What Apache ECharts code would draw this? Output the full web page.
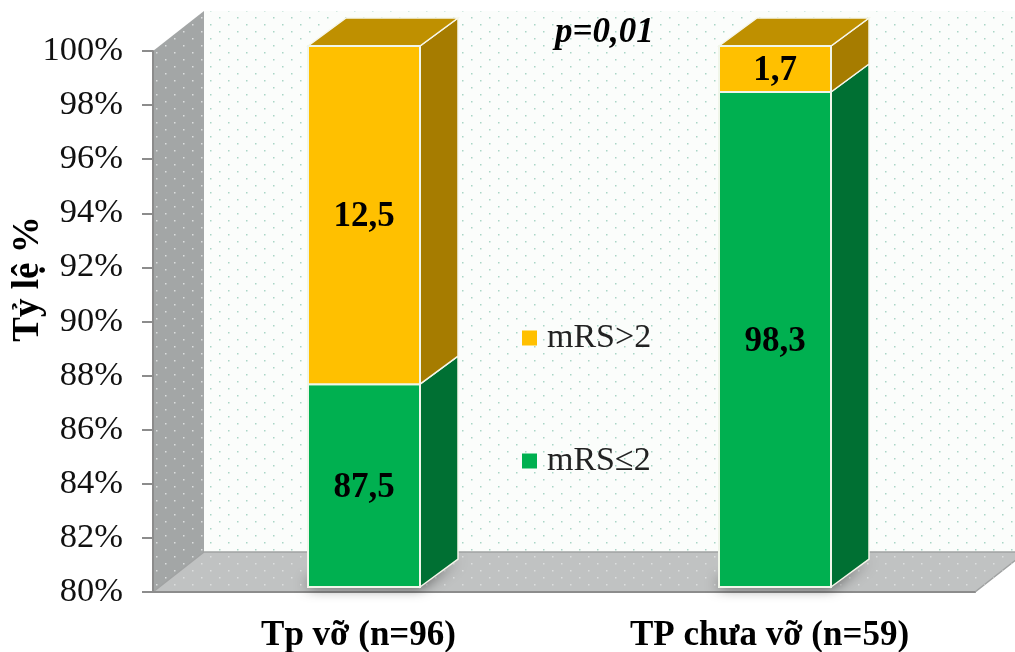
<!DOCTYPE html>
<html>
<head>
<meta charset="utf-8">
<style>
  html, body { margin: 0; padding: 0; background: #fff; }
  #chart { width: 1015px; height: 652px; }
</style>
<script src="https://cdn.jsdelivr.net/npm/echarts@6/dist/echarts.min.js"></script>
</head>
<body>
<div id="chart"></div>
<script>
const categories = ['Tp vỡ (n=96)', 'TP chưa vỡ (n=59)'];
const goodOutcome = [87.5, 98.3];
const poorOutcome = [12.5, 1.7];

const FONT = '"Liberation Serif", "Times New Roman", serif';
const wallDepth = [51, -40];
const barDepth = [38, -28];
const barInset = [5.5, -5];
const barWidth = 112;

function dotPattern(color) {
  const c = document.createElement('canvas');
  c.width = 18;
  c.height = 14;
  const ctx = c.getContext('2d');
  ctx.fillStyle = color;
  ctx.fillRect(3, 3, 1.5, 1.5);
  ctx.fillRect(12, 10, 1.5, 1.5);
  return { image: c, repeat: 'repeat' };
}
const wallDots = dotPattern('#a9d6c6');
const greyDots = dotPattern('#dcdede');

const chart = echarts.init(document.getElementById('chart'));

function renderWalls(params, api) {
  const g = params.coordSys;
  const x0 = g.x, y0 = g.y, x1 = g.x + g.width, y1 = g.y + g.height;
  const dx = wallDepth[0], dy = wallDepth[1];
  const poly = (points, fill, stroke) => ({
    type: 'polygon',
    shape: { points },
    style: { fill, stroke: stroke || null, lineWidth: 1.5 },
    silent: true
  });
  const back = [[x0 + dx, y0 + dy], [x1 + dx, y0 + dy], [x1 + dx, y1 + dy], [x0 + dx, y1 + dy]];
  const side = [[x0, y0], [x0 + dx, y0 + dy], [x0 + dx, y1 + dy], [x0, y1]];
  const floor = [[x0, y1], [x0 + dx, y1 + dy], [x1 + dx, y1 + dy], [x1, y1]];
  return {
    type: 'group',
    children: [
      poly(back, '#fbfdfb'),
      poly(back, wallDots),
      poly(side, '#a3a6a6'),
      poly(side, greyDots),
      poly(floor, '#c0c2c2', '#a0a2a2'),
      poly(floor, greyDots)
    ]
  };
}

// one stacked 3D segment: front, side, and lid when it is the top one
function segmentRenderer(faceColor, sideColor, lidColor, isBase, isTop) {
  return function (params, api) {
    const i = api.value(0);
    const from = api.coord([i, api.value(1)]);
    const to = api.coord([i, api.value(2)]);
    const xl = from[0] + barInset[0] - barWidth / 2;
    const xr = xl + barWidth;
    const yb = from[1] + barInset[1];
    const yt = to[1] + barInset[1];
    const dx = barDepth[0], dy = barDepth[1];
    const children = [];
    if (isBase) {
      children.push({
        type: 'polygon',
        shape: { points: [[xl, yb], [xr, yb], [xr + dx, yb + dy], [xr, yb - 10], [xl, yb - 6]] },
        style: { fill: '#555', shadowBlur: 14, shadowColor: 'rgba(0,0,0,0.75)', shadowOffsetX: 0, shadowOffsetY: 0 },
        silent: true
      });
    }
    children.push({
      type: 'polygon',
      shape: { points: [[xr, yb], [xr + dx, yb + dy], [xr + dx, yt + dy], [xr, yt]] },
      style: { fill: sideColor, stroke: '#f6f6ea', lineWidth: 1.5 }
    });
    if (isTop) {
      children.push({
        type: 'polygon',
        shape: { points: [[xl, yt], [xl + dx, yt + dy], [xr + dx, yt + dy], [xr, yt]] },
        style: { fill: lidColor, stroke: '#f6f6ea', lineWidth: 1.5 }
      });
    }
    children.push({
      type: 'rect',
      shape: { x: xl, y: yt, width: barWidth, height: yb - yt },
      style: { fill: faceColor, stroke: '#f0f6ea', lineWidth: 2 }
    });
    children.push({
      type: 'text',
      style: {
        x: (xl + xr) / 2,
        y: (yt + yb) / 2 + 2,
        text: String(api.value(3)).replace('.', ','),
        fill: '#000',
        fontFamily: FONT,
        fontWeight: 'bold',
        fontSize: 35,
        align: 'center',
        verticalAlign: 'middle'
      }
    });
    return { type: 'group', children };
  };
}

const goodData = categories.map((c, i) => [i, 80, goodOutcome[i], goodOutcome[i]]);
const poorData = categories.map((c, i) => [i, goodOutcome[i], goodOutcome[i] + poorOutcome[i], poorOutcome[i]]);

const option = {
  animation: false,
  backgroundColor: '#fff',
  grid: { left: 153, right: 40, top: 51, bottom: 60, outerBoundsMode: 'none' },
  legend: {
    data: ['mRS>2', 'mRS≤2'],
    orient: 'vertical',
    left: 517,
    top: 316,
    itemWidth: 15,
    itemHeight: 15,
    itemGap: 89,
    icon: 'rect',
    selectedMode: false,
    textStyle: { fontFamily: FONT, fontSize: 34, color: '#222', padding: [0, 0, 0, 5] }
  },
  title: {
    text: 'p=0,01',
    left: 550,
    top: 10,
    textStyle: { fontFamily: FONT, fontSize: 35, fontWeight: 'bold', fontStyle: 'italic', color: '#000' }
  },
  graphic: [{
    type: 'text',
    x: 28,
    y: 279,
    rotation: Math.PI / 2,
    style: {
      text: 'Tỷ lệ %',
      fontFamily: FONT,
      fontSize: 37,
      fontWeight: 'bold',
      fill: '#000',
      align: 'center',
      verticalAlign: 'middle'
    }
  }],
  xAxis: {
    type: 'category',
    data: categories,
    axisTick: { show: false },
    axisLine: { lineStyle: { color: '#8c8c8c', width: 2 } },
    axisLabel: { fontFamily: FONT, fontSize: 35, fontWeight: 'bold', color: '#000', margin: 26 }
  },
  yAxis: {
    type: 'value',
    min: 80,
    max: 100,
    interval: 2,
    splitLine: { show: false },
    axisLine: { show: true, lineStyle: { color: '#8c8c8c', width: 2 } },
    axisTick: { show: true, length: 11, lineStyle: { color: '#8c8c8c', width: 2 } },
    axisLabel: { formatter: '{value}%', fontFamily: FONT, fontSize: 34.5, color: '#111', margin: 30, padding: [4, 0, 0, 0] }
  },
  series: [
    {
      name: 'walls',
      type: 'custom',
      coordinateSystem: 'cartesian2d',
      clip: false,
      silent: true,
      z: 0,
      data: [[0, 80]],
      renderItem: renderWalls
    },
    {
      name: 'mRS≤2',
      type: 'custom',
      coordinateSystem: 'cartesian2d',
      clip: false,
      z: 3,
      itemStyle: { color: '#00B050' },
      encode: { x: 0, y: 2 },
      data: goodData,
      renderItem: segmentRenderer('#00B050', '#007033', '#007033', true, false)
    },
    {
      name: 'mRS>2',
      type: 'custom',
      coordinateSystem: 'cartesian2d',
      clip: false,
      z: 4,
      itemStyle: { color: '#FFC000' },
      encode: { x: 0, y: 2 },
      data: poorData,
      renderItem: segmentRenderer('#FFC000', '#A67C00', '#BF9000', false, true)
    }
  ]
};
chart.setOption(option);
</script>
</body>
</html>
